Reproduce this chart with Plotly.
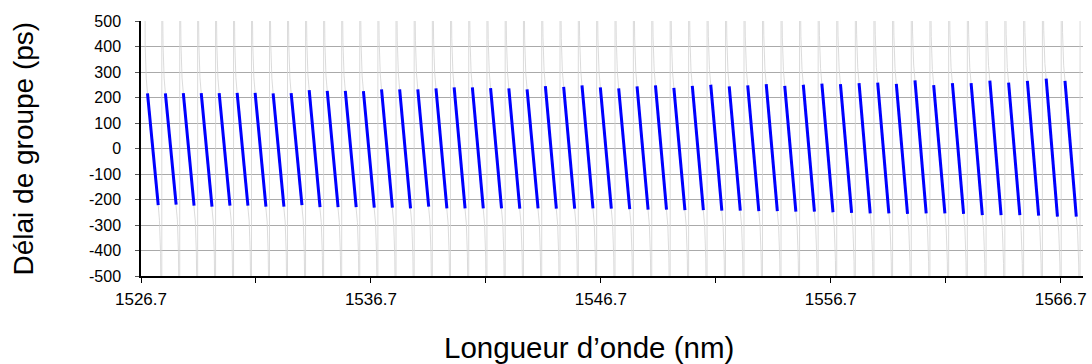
import plotly.graph_objects as go

# ITU 100 GHz grid channel centres (THz)
CHANNEL_THZ = [
    196.3, 196.2, 196.1, 196.0, 195.9, 195.8, 195.7, 195.6, 195.5, 195.4,
    195.3, 195.2, 195.1, 195.0, 194.9, 194.8, 194.7, 194.6, 194.5, 194.4,
    194.3, 194.2, 194.1, 194.0, 193.9, 193.8, 193.7, 193.6, 193.5, 193.4,
    193.3, 193.2, 193.1, 193.0, 192.9, 192.8, 192.7, 192.6, 192.5, 192.4,
    192.3, 192.2, 192.1, 192.0, 191.9, 191.8, 191.7, 191.6, 191.5, 191.4,
    191.3,
]

# group delay at the short-wavelength band edge of each channel (ps)
DELAY_TOP = [
    216, 216, 217, 217, 217, 218, 218, 216, 217, 229,
    226, 226, 225, 232, 232, 232, 236, 240, 240, 237,
    236, 232, 245, 242, 248, 240, 236, 244, 248, 238,
    246, 250, 244, 248, 252, 246, 250, 254, 252, 256,
    258, 253, 267, 249, 256, 256, 266, 258, 265, 274,
    265,
]

# group delay at the long-wavelength band edge of each channel (ps)
DELAY_BOTTOM = [
    -222, -220, -224, -228, -224, -224, -228, -228, -222, -230,
    -230, -230, -232, -232, -235, -228, -235, -235, -235, -235,
    -236, -235, -236, -236, -235, -236, -238, -240, -240, -242,
    -242, -244, -244, -246, -246, -248, -248, -250, -252, -254,
    -254, -256, -254, -254, -256, -261, -261, -261, -263, -267,
    -267,
]

# passband half-width (GHz) and the delay rise outside it, towards the
# channel boundary (GHz beyond the band edge, extra delay in ps)
BAND_HALF_GHZ = 30
TAIL_GHZ = [0, 7, 13, 17, 20]
TAIL_PS = [0, 60, 190, 450, 2500]

X_TICKS = [1526.7, 1531.7, 1536.7, 1541.7, 1546.7, 1551.7, 1556.7, 1561.7, 1566.7]
X_LABELS = ["1526.7", "", "1536.7", "", "1546.7", "", "1556.7", "", "1566.7"]
Y_TICKS = [500, 400, 300, 200, 100, 0, -100, -200, -300, -400, -500]
Y_LABELS = ["500", "400", "300", "200", "100", "0", "-100", "-200", "-300", "-400", "-500"]

C_NM_THZ = 299792.458


def wl(freq_thz):
    return C_NM_THZ / freq_thz


# full measured response (grey) and in-band part (blue)
gx, gy = [], []
bx, by = [], []
for f, top, bot in zip(CHANNEL_THZ, DELAY_TOP, DELAY_BOTTOM):
    for g, d in reversed(list(zip(TAIL_GHZ, TAIL_PS))):
        gx.append(wl(f + (BAND_HALF_GHZ + g) / 1000.0))
        gy.append(top + d)
    for g, d in zip(TAIL_GHZ, TAIL_PS):
        gx.append(wl(f - (BAND_HALF_GHZ + g) / 1000.0))
        gy.append(bot - d)
    bx += [wl(f + BAND_HALF_GHZ / 1000.0), wl(f - BAND_HALF_GHZ / 1000.0), None]
    by += [top, bot, None]
# wrap back up after the last channel
gx.append(gx[-1])
gy.append(TAIL_PS[-1])

FONT = "Liberation Sans, Arial, sans-serif"

fig = go.Figure()
fig.add_trace(go.Scatter(x=gx, y=gy, mode="lines",
                         line=dict(color="#d2d2d2", width=0.8),
                         hoverinfo="skip", showlegend=False))
fig.add_trace(go.Scatter(x=bx, y=by, mode="lines",
                         line=dict(color="#0000ff", width=3),
                         showlegend=False))

fig.update_layout(
    width=1092, height=364,
    margin=dict(l=141, r=5, t=21, b=88),
    paper_bgcolor="white", plot_bgcolor="white",
    font=dict(family=FONT, color="black", size=17),
    xaxis=dict(
        range=[1526.7, 1567.67],
        tickvals=X_TICKS, ticktext=X_LABELS,
        ticks="outside", ticklen=5, tickcolor="black", tickwidth=1,
        showgrid=False, zeroline=False,
        showline=True, linecolor="black", linewidth=1.5,
        tickfont=dict(size=17), ticklabelstandoff=2,
    ),
    yaxis=dict(
        range=[-500, 500],
        tickvals=Y_TICKS, ticktext=Y_LABELS,
        ticks="outside", ticklen=4, tickcolor="#555555", tickwidth=1,
        showgrid=True, gridcolor="#aaaaaa", gridwidth=1,
        zeroline=False,
        showline=True, linecolor="black", linewidth=1.5,
        tickfont=dict(size=16), ticklabelstandoff=11,
    ),
    annotations=[
        dict(text="Longueur d’onde (nm)", xref="paper", yref="paper",
             x=(591 - 141) / 946, y=-(348 - 276) / 255,
             xanchor="center", yanchor="middle", showarrow=False,
             font=dict(size=29.5, family=FONT)),
        dict(text="Délai de groupe (ps)", xref="paper", yref="paper",
             x=(23 - 141) / 946, y=(276 - 148) / 255, textangle=-90,
             xanchor="center", yanchor="middle", showarrow=False,
             font=dict(size=28, family=FONT)),
    ],
)

fig.write_html("out.html")
